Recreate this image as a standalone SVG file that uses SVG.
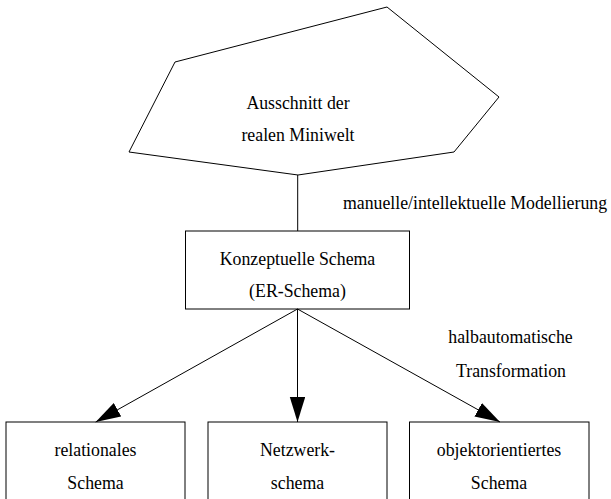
<svg xmlns="http://www.w3.org/2000/svg" width="611" height="499" viewBox="0 0 611 499">
  <style>
    .shape { fill: none; stroke: #000; stroke-width: 1; }
    .edge { fill: none; stroke: #000; stroke-width: 1; }
    text { font-family: "Liberation Serif", "Times New Roman", serif; font-size: 17.8px; fill: #000; text-anchor: middle; }
    .lbl { text-anchor: middle; }
  </style>
  <defs>
    <marker id="arrow" markerUnits="userSpaceOnUse" markerWidth="26" markerHeight="16" refX="25" refY="7.7" orient="auto">
      <path d="M0,0 L25,7.7 L0,15.4 Z" fill="#000"/>
    </marker>
  </defs>
  <rect width="611" height="499" fill="#fff"/>

  <g id="connectors">
    <line class="edge" x1="297.7" y1="175" x2="297.7" y2="231"/>
    <line class="edge" x1="297.5" y1="309" x2="95.7" y2="422" marker-end="url(#arrow)"/>
    <line class="edge" x1="297.5" y1="309" x2="297.5" y2="422" marker-end="url(#arrow)"/>
    <line class="edge" x1="297.5" y1="309" x2="500" y2="422" marker-end="url(#arrow)"/>
    <text x="475" y="209">manuelle/intellektuelle Modellierung</text>
    <text x="510.5" y="342.7">halbautomatische</text>
    <text x="511" y="376.5">Transformation</text>
  </g>

  <g id="miniwelt">
    <polygon class="shape" points="387,7 499,97 454,152 298,175 129,152 175,62"/>
    <text x="298" y="108.5">Ausschnitt der</text>
    <text x="298" y="140.5">realen Miniwelt</text>
  </g>

  <g id="konzept">
    <rect class="shape" x="185.5" y="231" width="224" height="78"/>
    <text x="297.5" y="265">Konzeptuelle Schema</text>
    <text x="297.5" y="296.5">(ER-Schema)</text>
  </g>

  <g id="relational">
    <rect class="shape" x="6" y="422" width="179" height="78"/>
    <text x="95.5" y="456">relationales</text>
    <text x="95.5" y="489">Schema</text>
  </g>

  <g id="netzwerk">
    <rect class="shape" x="208" y="422" width="179" height="78"/>
    <text x="297.5" y="456">Netzwerk-</text>
    <text x="297.5" y="489">schema</text>
  </g>

  <g id="objekt">
    <rect class="shape" x="409.5" y="422" width="179.5" height="78"/>
    <text x="499" y="456">objektorientiertes</text>
    <text x="499" y="489">Schema</text>
  </g>
</svg>
